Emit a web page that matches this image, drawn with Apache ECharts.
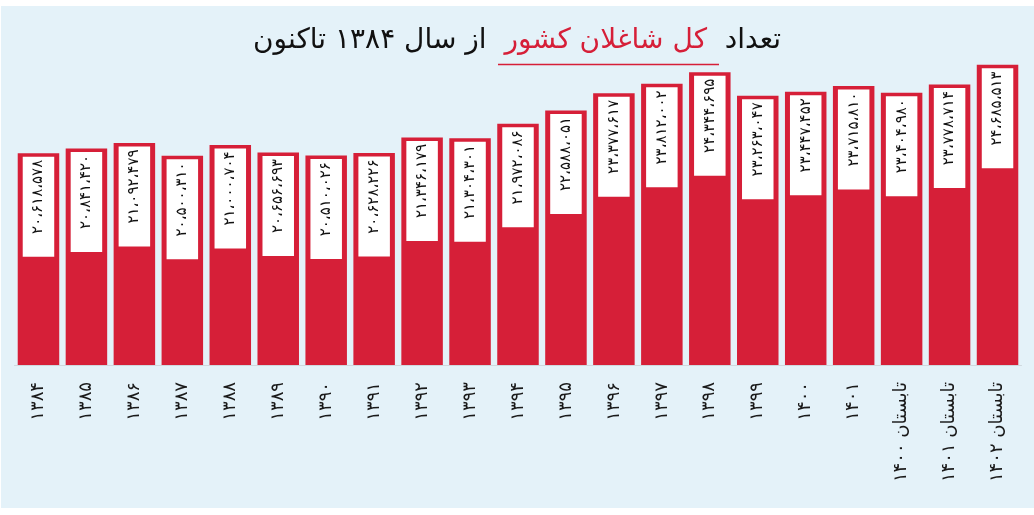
<!DOCTYPE html>
<html>
<head>
<meta charset="utf-8">
<script src="https://cdn.jsdelivr.net/npm/echarts@6/dist/echarts.min.js"></script>
<style>
html,body{margin:0;padding:0;background:#ffffff;}
#chart{width:1034px;height:515px;}
</style>
</head>
<body>
<div id="chart"></div>
<script>
const categories = ['۱۳۸۴','۱۳۸۵','۱۳۸۶','۱۳۸۷','۱۳۸۸','۱۳۸۹','۱۳۹۰','۱۳۹۱','۱۳۹۲','۱۳۹۳','۱۳۹۴','۱۳۹۵','۱۳۹۶','۱۳۹۷','۱۳۹۸','۱۳۹۹','۱۴۰۰','۱۴۰۱','تابستان ۱۴۰۰','تابستان ۱۴۰۱','تابستان ۱۴۰۲'];
const employed = [20618578,20841420,21092479,20500310,21000704,20656693,20510026,20628226,21346179,21304301,21972086,22588051,23377617,23812002,24344695,23263047,23447452,23715810,23404980,23778714,24685513];
const titleParts = ['تعداد', 'کل شاغلان کشور', 'از سال ۱۳۸۴ تاکنون'];

function toFa(n){
  const d = '۰۱۲۳۴۵۶۷۸۹';
  const s = String(n).replace(/\B(?=(\d{3})+(?!\d))/g, '،');
  return s.replace(/\d/g, c => d[+c]);
}

const chart = echarts.init(document.getElementById('chart'));
chart.setOption({
  animation:false,
  backgroundColor:'transparent',
  textStyle:{fontFamily:'DejaVu Sans'},
  graphic:[
    {type:'rect', z:-10, silent:true, shape:{x:1,y:6,width:1033,height:502}, style:{fill:'#e4f2f9'}},
    {type:'line', z:10, shape:{x1:498,y1:64.5,x2:719,y2:64.5}, style:{stroke:'#d61f38', lineWidth:1.5}}
  ],
  title:{
    left:'center', top:22,
    text:'{a|'+titleParts[2]+'}  {b|'+titleParts[1]+'}  {a|'+titleParts[0]+'}',
    textStyle:{
      fontWeight:'normal', fontSize:28,
      rich:{
        a:{fontSize:28, color:'#111', fontFamily:'DejaVu Sans', fontWeight:'normal'},
        b:{fontSize:28, color:'#d61f38', fontFamily:'DejaVu Sans', fontWeight:'normal'}
      }
    }
  },
  grid:{left:14.5, right:12.5, top:58, bottom:150, containLabel:false},
  xAxis:{
    type:'category', data:categories,
    axisLine:{lineStyle:{color:'#cfd8de', width:1}},
    axisTick:{show:false},
    axisLabel:{rotate:90, margin:17, fontSize:18, color:'#1a1a1a', fontFamily:'DejaVu Sans', interval:0}
  },
  yAxis:{type:'value', min:10880000, max:25000000, show:false, splitLine:{show:false}},
  series:[{
    type:'bar', data:employed, barWidth:41.5,
    itemStyle:{color:'#d61f38'},
    label:{
      show:true, position:'insideTop', distance:3.5, rotate:90,
      align:'right', verticalAlign:'middle',
      formatter:p=>toFa(p.value),
      backgroundColor:'#ffffff', width:94, padding:[0,3,0,3], lineHeight:31.5,
      fontSize:15, color:'#111', fontFamily:'DejaVu Sans'
    }
  }]
});
</script>
</body>
</html>
